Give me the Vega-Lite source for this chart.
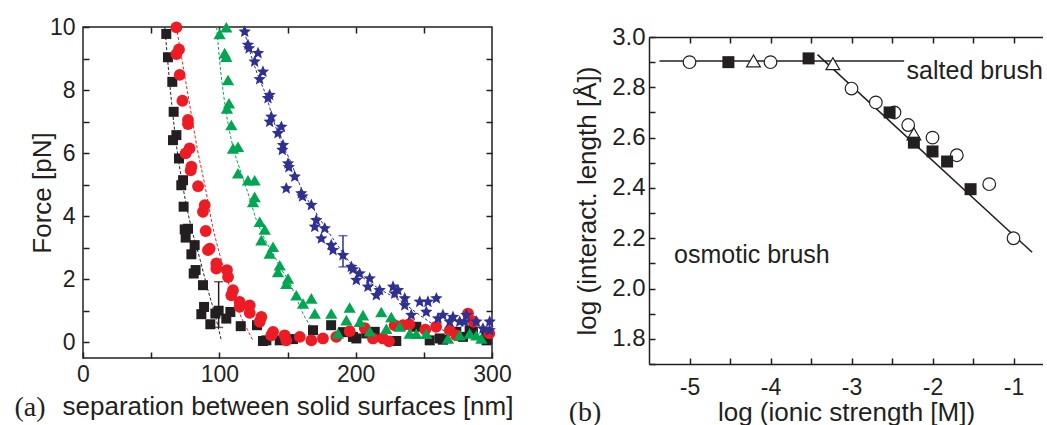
{
"$schema":"https://vega.github.io/schema/vega-lite/v6.json",
"background":"white",
"padding":{"left":13,"top":15,"right":0,"bottom":0},
"autosize":{"type":"pad"},
"columns":2,
"spacing":54,
"datasets":{
"aPts":[
{"s":"k","x":61.1,"y":9.78},{"s":"k","x":62.3,"y":9.04},{"s":"k","x":65.5,"y":8.26},{"s":"k","x":66.5,"y":7.31},{"s":"k","x":68.5,"y":6.57},{"s":"k","x":66.0,"y":6.41},{"s":"k","x":70.4,"y":5.83},{"s":"k","x":73.4,"y":5.14},{"s":"k","x":72.1,"y":4.98},{"s":"k","x":73.8,"y":4.30},{"s":"k","x":74.6,"y":3.58},{"s":"k","x":77.0,"y":3.6},{"s":"k","x":75.3,"y":3.32},{"s":"k","x":81.9,"y":3.08},{"s":"k","x":79.5,"y":2.79},{"s":"k","x":82.6,"y":2.29},{"s":"k","x":81.2,"y":2.18},{"s":"k","x":88.0,"y":1.81},{"s":"k","x":88.8,"y":1.12},{"s":"k","x":86.8,"y":0.89},{"s":"k","x":93.4,"y":0.57},{"s":"k","x":97.1,"y":0.91},{"s":"k","x":99.5,"y":1.0},{"s":"k","x":105.1,"y":0.75},{"s":"k","x":108.1,"y":0.96},{"s":"k","x":115.7,"y":0.51},{"s":"k","x":127.6,"y":0.54},{"s":"k","x":132.0,"y":0.04},{"s":"k","x":134.5,"y":0.06},{"s":"k","x":144.3,"y":0.06},{"s":"k","x":154.0,"y":0.10},{"s":"k","x":168.7,"y":0.38},{"s":"k","x":182.0,"y":0.54},{"s":"k","x":190.7,"y":0.32},{"s":"k","x":198.0,"y":0.17},{"s":"k","x":200.5,"y":0.12},{"s":"k","x":207.8,"y":0.28},{"s":"k","x":214.0,"y":0.33},{"s":"k","x":229.8,"y":0.04},{"s":"k","x":244.5,"y":0.49},{"s":"k","x":254.3,"y":0.06},{"s":"k","x":261.6,"y":0.12},{"s":"k","x":264.0,"y":0.08},{"s":"k","x":273.8,"y":0.33},{"s":"k","x":278.7,"y":0.17},{"s":"k","x":283.6,"y":0.38},{"s":"k","x":286.0,"y":0.33},{"s":"k","x":295.8,"y":0.22},{"s":"k","x":296.0,"y":0.06},
{"s":"r","x":68.5,"y":9.99},{"s":"r","x":70.4,"y":9.29},{"s":"r","x":68.5,"y":9.14},{"s":"r","x":70.9,"y":8.48},{"s":"r","x":72.9,"y":7.66},{"s":"r","x":77.0,"y":7.05},{"s":"r","x":77.0,"y":6.92},{"s":"r","x":78.2,"y":6.15},{"s":"r","x":75.3,"y":5.99},{"s":"r","x":79.5,"y":5.57},{"s":"r","x":79.0,"y":5.45},{"s":"r","x":84.4,"y":4.95},{"s":"r","x":89.3,"y":4.35},{"s":"r","x":88.0,"y":4.14},{"s":"r","x":90.0,"y":3.53},{"s":"r","x":92.9,"y":2.97},{"s":"r","x":91.7,"y":2.92},{"s":"r","x":97.8,"y":2.50},{"s":"r","x":97.8,"y":2.34},{"s":"r","x":105.6,"y":2.29},{"s":"r","x":106.4,"y":2.07},{"s":"r","x":110.0,"y":1.65},{"s":"r","x":108.8,"y":1.49},{"s":"r","x":114.9,"y":1.28},{"s":"r","x":114.9,"y":1.12},{"s":"r","x":122.3,"y":1.17},{"s":"r","x":122.3,"y":0.93},{"s":"r","x":130.8,"y":0.80},{"s":"r","x":129.6,"y":0.65},{"s":"r","x":139.4,"y":0.33},{"s":"r","x":138.1,"y":0.22},{"s":"r","x":147.9,"y":0.22},{"s":"r","x":149.1,"y":0.06},{"s":"r","x":159.0,"y":0.17},{"s":"r","x":167.5,"y":0.06},{"s":"r","x":176.0,"y":0.12},{"s":"r","x":185.8,"y":0.17},{"s":"r","x":195.6,"y":0.35},{"s":"r","x":206.6,"y":0.45},{"s":"r","x":212.7,"y":0.12},{"s":"r","x":220.0,"y":0.12},{"s":"r","x":224.5,"y":0.03},{"s":"r","x":228.6,"y":0.54},{"s":"r","x":234.7,"y":0.54},{"s":"r","x":239.3,"y":0.57},{"s":"r","x":251.0,"y":0.40},{"s":"r","x":259.0,"y":0.49},{"s":"r","x":269.0,"y":0.38},{"s":"r","x":273.8,"y":0.22},{"s":"r","x":282.4,"y":0.91},{"s":"r","x":286.5,"y":0.65},{"s":"r","x":298.0,"y":0.28},
{"s":"g","x":100.2,"y":9.78},{"s":"g","x":105.1,"y":9.99},{"s":"g","x":103.9,"y":9.17},{"s":"g","x":105.1,"y":9.06},{"s":"g","x":106.4,"y":8.32},{"s":"g","x":107.1,"y":7.58},{"s":"g","x":105.6,"y":7.42},{"s":"g","x":108.8,"y":6.89},{"s":"g","x":110.0,"y":6.15},{"s":"g","x":113.7,"y":6.20},{"s":"g","x":113.7,"y":5.36},{"s":"g","x":121.0,"y":5.14},{"s":"g","x":125.9,"y":5.14},{"s":"g","x":125.9,"y":4.61},{"s":"g","x":124.7,"y":4.45},{"s":"g","x":129.6,"y":3.82},{"s":"g","x":133.3,"y":3.58},{"s":"g","x":130.8,"y":3.24},{"s":"g","x":139.4,"y":3.03},{"s":"g","x":136.9,"y":2.82},{"s":"g","x":144.3,"y":2.44},{"s":"g","x":143.0,"y":2.23},{"s":"g","x":150.4,"y":2.02},{"s":"g","x":149.1,"y":1.86},{"s":"g","x":156.5,"y":1.49},{"s":"g","x":161.4,"y":1.23},{"s":"g","x":167.5,"y":1.39},{"s":"g","x":170.0,"y":0.91},{"s":"g","x":182.1,"y":0.91},{"s":"g","x":187.0,"y":0.28},{"s":"g","x":193.2,"y":0.70},{"s":"g","x":195.6,"y":1.1},{"s":"g","x":203.0,"y":0.65},{"s":"g","x":205.4,"y":0.86},{"s":"g","x":210.3,"y":0.35},{"s":"g","x":218.8,"y":0.96},{"s":"g","x":222.5,"y":0.43},{"s":"g","x":226.1,"y":0.80},{"s":"g","x":232.3,"y":0.50},{"s":"g","x":239.6,"y":0.28},{"s":"g","x":244.5,"y":0.27},{"s":"g","x":251.8,"y":0.27},{"s":"g","x":267.7,"y":0.12},{"s":"g","x":276.3,"y":0.22},{"s":"g","x":283.6,"y":0.28},{"s":"g","x":288.5,"y":0.22},{"s":"g","x":292.2,"y":0.12},
{"s":"b","x":118.6,"y":9.85},{"s":"b","x":121.0,"y":9.43},{"s":"b","x":121.8,"y":9.32},{"s":"b","x":128.4,"y":9.17},{"s":"b","x":125.9,"y":8.90},{"s":"b","x":132.0,"y":8.58},{"s":"b","x":129.6,"y":8.34},{"s":"b","x":136.9,"y":7.84},{"s":"b","x":135.7,"y":7.74},{"s":"b","x":138.1,"y":7.15},{"s":"b","x":136.9,"y":6.99},{"s":"b","x":145.5,"y":6.83},{"s":"b","x":143.0,"y":6.63},{"s":"b","x":146.7,"y":6.25},{"s":"b","x":146.2,"y":6.10},{"s":"b","x":150.4,"y":5.67},{"s":"b","x":151.0,"y":5.55},{"s":"b","x":155.3,"y":5.25},{"s":"b","x":149.1,"y":4.88},{"s":"b","x":160.1,"y":4.72},{"s":"b","x":161.0,"y":4.62},{"s":"b","x":167.5,"y":4.35},{"s":"b","x":171.1,"y":3.87},{"s":"b","x":170.0,"y":3.66},{"s":"b","x":177.3,"y":3.61},{"s":"b","x":174.8,"y":3.29},{"s":"b","x":182.1,"y":3.08},{"s":"b","x":183.4,"y":2.92},{"s":"b","x":190.7,"y":2.76},{"s":"b","x":196.8,"y":2.39},{"s":"b","x":198.0,"y":2.31},{"s":"b","x":200.5,"y":1.97},{"s":"b","x":202.9,"y":2.18},{"s":"b","x":210.3,"y":2.02},{"s":"b","x":209.0,"y":1.76},{"s":"b","x":217.6,"y":1.65},{"s":"b","x":215.2,"y":1.49},{"s":"b","x":227.4,"y":1.76},{"s":"b","x":231.0,"y":1.65},{"s":"b","x":228.6,"y":1.54},{"s":"b","x":236.0,"y":1.39},{"s":"b","x":236.0,"y":1.17},{"s":"b","x":240.8,"y":0.86},{"s":"b","x":247.0,"y":1.28},{"s":"b","x":251.8,"y":0.96},{"s":"b","x":253.0,"y":1.28},{"s":"b","x":259.2,"y":1.39},{"s":"b","x":260.4,"y":0.75},{"s":"b","x":264.0,"y":0.86},{"s":"b","x":271.4,"y":0.80},{"s":"b","x":269.0,"y":0.65},{"s":"b","x":276.3,"y":0.65},{"s":"b","x":281.2,"y":0.86},{"s":"b","x":280.0,"y":0.65},{"s":"b","x":288.5,"y":0.65},{"s":"b","x":293.4,"y":0.43},{"s":"b","x":298.3,"y":0.65},{"s":"b","x":298.3,"y":0.38}
],
"aLines":[
{"s":"k","x":60,"y":10},{"s":"k","x":65,"y":7.6},{"s":"k","x":69,"y":6.1},{"s":"k","x":73,"y":5.0},{"s":"k","x":78,"y":3.9},{"s":"k","x":86,"y":2.6},{"s":"k","x":92,"y":1.6},{"s":"k","x":97,"y":0.85},{"s":"k","x":101.5,"y":0.05},
{"s":"r","x":68.5,"y":10},{"s":"r","x":78,"y":7.6},{"s":"r","x":84,"y":6.1},{"s":"r","x":89.3,"y":5.0},{"s":"r","x":95,"y":3.7},{"s":"r","x":101.5,"y":2.6},{"s":"r","x":108,"y":1.7},{"s":"r","x":115,"y":0.9},{"s":"r","x":120,"y":0.45},{"s":"r","x":124.7,"y":0.05},
{"s":"g","x":98,"y":10},{"s":"g","x":101,"y":8.6},{"s":"g","x":105,"y":7.3},{"s":"g","x":110,"y":6.2},{"s":"g","x":115,"y":5.5},{"s":"g","x":122,"y":4.6},{"s":"g","x":127,"y":3.9},{"s":"g","x":133,"y":3.3},{"s":"g","x":139.5,"y":2.8},{"s":"g","x":145,"y":2.35},{"s":"g","x":151.5,"y":1.9},{"s":"g","x":156,"y":1.45},{"s":"g","x":161.5,"y":0.9},{"s":"g","x":167,"y":0.5},{"s":"g","x":174.5,"y":0.05},
{"s":"b","x":117.5,"y":10},{"s":"b","x":124,"y":9.0},{"s":"b","x":128,"y":8.5},{"s":"b","x":134.5,"y":7.8},{"s":"b","x":140,"y":7.0},{"s":"b","x":146,"y":6.3},{"s":"b","x":151.6,"y":5.8},{"s":"b","x":160,"y":4.9},{"s":"b","x":171,"y":4.1},{"s":"b","x":180,"y":3.5},{"s":"b","x":188,"y":3.0},{"s":"b","x":198,"y":2.4},{"s":"b","x":205,"y":2.07},{"s":"b","x":218,"y":1.68},{"s":"b","x":232,"y":1.33},{"s":"b","x":249,"y":0.8},{"s":"b","x":262,"y":0.43},{"s":"b","x":271,"y":0.25}
],
"aErr":[{"s":"k","x":99.5,"lo":0.47,"hi":1.92},{"s":"b","x":190.7,"lo":2.39,"hi":3.38}],
"aCaps":[{"s":"k","x":99.5,"y":0.47},{"s":"k","x":99.5,"y":1.92},{"s":"b","x":190.7,"y":2.39},{"s":"b","x":190.7,"y":3.38}],
"bPts":[
{"t":"c","x":-5.0,"y":2.90},{"t":"c","x":-4.0,"y":2.90},{"t":"c","x":-3.0,"y":2.795},{"t":"c","x":-2.7,"y":2.74},{"t":"c","x":-2.47,"y":2.70},{"t":"c","x":-2.3,"y":2.65},{"t":"c","x":-2.0,"y":2.60},{"t":"c","x":-1.7,"y":2.53},{"t":"c","x":-1.3,"y":2.415},{"t":"c","x":-1.0,"y":2.20},
{"t":"t","x":-4.21,"y":2.905},{"t":"t","x":-3.23,"y":2.894},{"t":"t","x":-2.23,"y":2.615},
{"t":"s","x":-4.52,"y":2.90},{"t":"s","x":-3.53,"y":2.915},{"t":"s","x":-2.53,"y":2.70},{"t":"s","x":-2.23,"y":2.58},{"t":"s","x":-2.0,"y":2.545},{"t":"s","x":-1.82,"y":2.505},{"t":"s","x":-1.53,"y":2.395}
],
"bLines":[{"id":"h","x":-5.37,"y":2.905},{"id":"h","x":-2.35,"y":2.905},{"id":"d","x":-3.42,"y":2.93},{"id":"d","x":-0.77,"y":2.144}],
"bText":[{"label":"salted brush","x":-2.32,"y":2.833},{"label":"osmotic brush","x":-5.19,"y":2.10}]
},
"concat":[
{
"width":409,"height":331,
"view":{"stroke":"#231f20","strokeWidth":1.5},
"title":{"text":"(a)","orient":"bottom","anchor":"start","font":"Liberation Serif","fontSize":28,"fontWeight":"normal","color":"#231f20","dx":-15,"dy":-25,"offset":0},
"layer":[
{"data":{"name":"aLines"},"mark":{"type":"line","strokeDash":[3,2],"strokeWidth":1,"interpolate":"monotone"},
"encoding":{"x":{"field":"x","type":"quantitative","scale":{"domain":[0,300],"nice":false,"zero":false},"axis":null},
"y":{"field":"y","type":"quantitative","scale":{"domain":[-0.5,10],"nice":false,"zero":false},"axis":null},
"color":{"field":"s","type":"nominal","scale":{"domain":["k","r","g","b"],"range":["#231f20","#ed1c24","#00a651","#2e3192"]},"legend":null},
"detail":{"field":"s","type":"nominal"}}},
{"data":{"name":"aPts"},"transform":[{"filter":"datum.s === 'k'"}],"mark":{"type":"point","shape":"square","filled":true,"opacity":1,"size":100,"color":"#231f20","strokeWidth":0},
"encoding":{"x":{"field":"x","type":"quantitative","scale":{"domain":[0,300],"nice":false,"zero":false},
"axis":{"orient":"bottom","values":[0,50,100,150,200,250,300],"labelExpr":"datum.value % 100 === 0 ? datum.label : ''","tickSize":-6,"labelPadding":11,"labelFontSize":23,"title":"separation between solid surfaces [nm]","titleFontSize":26,"titlePadding":7,"domain":false}},
"y":{"field":"y","type":"quantitative","scale":{"domain":[-0.5,10],"nice":false,"zero":false},
"axis":{"orient":"left","values":[0,1,2,3,4,5,6,7,8,9,10],"labelExpr":"datum.value % 2 === 0 ? datum.label : ''","tickSize":-6,"labelPadding":14,"labelFontSize":23,"title":"Force [pN]","titleFontSize":26,"titlePadding":-6,"domain":false}}}},
{"data":{"name":"aPts"},"transform":[{"filter":"datum.s === 'r'"}],"mark":{"type":"point","shape":"circle","filled":true,"opacity":1,"size":140,"color":"#ed1c24","strokeWidth":0},
"encoding":{"x":{"field":"x","type":"quantitative","scale":{"domain":[0,300],"nice":false,"zero":false},"axis":null},"y":{"field":"y","type":"quantitative","scale":{"domain":[-0.5,10],"nice":false,"zero":false},"axis":null}}},
{"data":{"name":"aPts"},"transform":[{"filter":"datum.s === 'g'"}],"mark":{"type":"point","shape":"triangle-up","filled":true,"opacity":1,"size":150,"color":"#00a651","strokeWidth":0},
"encoding":{"x":{"field":"x","type":"quantitative","scale":{"domain":[0,300],"nice":false,"zero":false},"axis":null},"y":{"field":"y","type":"quantitative","scale":{"domain":[-0.5,10],"nice":false,"zero":false},"axis":null}}},
{"data":{"name":"aPts"},"transform":[{"filter":"datum.s === 'b'"}],"mark":{"type":"point","shape":"M0,-1L0.2645,-0.364L0.951,-0.309L0.428,0.139L0.588,0.809L0,0.45L-0.588,0.809L-0.428,0.139L-0.951,-0.309L-0.2645,-0.364Z","filled":true,"opacity":1,"size":170,"color":"#2e3192","strokeWidth":0},
"encoding":{"x":{"field":"x","type":"quantitative","scale":{"domain":[0,300],"nice":false,"zero":false},"axis":null},"y":{"field":"y","type":"quantitative","scale":{"domain":[-0.5,10],"nice":false,"zero":false},"axis":null}}},
{"data":{"name":"aErr"},"mark":{"type":"rule","strokeWidth":1.5},
"encoding":{"x":{"field":"x","type":"quantitative","scale":{"domain":[0,300],"nice":false,"zero":false},
"axis":{"orient":"top","values":[50,100,150,200,250],"labels":false,"tickSize":-6,"domain":false,"title":null}},
"y":{"field":"lo","type":"quantitative","scale":{"domain":[-0.5,10],"nice":false,"zero":false},
"axis":{"orient":"right","values":[0,1,2,3,4,5,6,7,8,9],"labels":false,"tickSize":-6,"domain":false,"title":null}},
"y2":{"field":"hi"},
"color":{"field":"s","type":"nominal","scale":{"domain":["k","r","g","b"],"range":["#231f20","#ed1c24","#00a651","#2e3192"]},"legend":null}}},
{"data":{"name":"aCaps"},"mark":{"type":"tick","orient":"horizontal","size":9,"thickness":1.5},
"encoding":{"x":{"field":"x","type":"quantitative","scale":{"domain":[0,300],"nice":false,"zero":false},"axis":null},
"y":{"field":"y","type":"quantitative","scale":{"domain":[-0.5,10],"nice":false,"zero":false},"axis":null},
"color":{"field":"s","type":"nominal","scale":{"domain":["k","r","g","b"],"range":["#231f20","#ed1c24","#00a651","#2e3192"]},"legend":null}}}
],
"resolve":{"axis":{"x":"independent","y":"independent"}}
},
{
"spacing":-6,
"vconcat":[
{"width":394,"height":1,"data":{"values":[{"z":0}]},"mark":{"type":"point","opacity":0},"encoding":{}},
{
"width":394,"height":327,
"view":{"stroke":null},
"title":{"text":"(b)","orient":"bottom","anchor":"start","font":"Liberation Serif","fontSize":28,"fontWeight":"normal","color":"#231f20","dx":-6,"dy":-26,"offset":0},
"layer":[
{"data":{"name":"bLines"},"mark":{"type":"line","strokeWidth":1.5,"color":"#231f20"},
"encoding":{"x":{"field":"x","type":"quantitative","scale":{"domain":[-5.5,-0.636],"nice":false,"zero":false},"axis":null},
"y":{"field":"y","type":"quantitative","scale":{"domain":[1.7,3.0],"nice":false,"zero":false},"axis":null},
"detail":{"field":"id","type":"nominal"}}},
{"data":{"name":"bPts"},"transform":[{"filter":"datum.t === 'c'"}],"mark":{"type":"point","shape":"circle","filled":true,"fill":"white","stroke":"#231f20","strokeWidth":1.2,"opacity":1,"size":160},
"encoding":{"x":{"field":"x","type":"quantitative","scale":{"domain":[-5.5,-0.636],"nice":false,"zero":false},
"axis":{"orient":"bottom","values":[-5,-4.5,-4,-3.5,-3,-2.5,-2,-1.5,-1],"labelExpr":"datum.value % 1 === 0 ? '' + datum.value : ''","tickSize":-6,"labelPadding":18,"labelFontSize":23,"title":"log (ionic strength [M])","titleFontSize":26,"titlePadding":0,"domain":true,"domainWidth":1.5}},
"y":{"field":"y","type":"quantitative","scale":{"domain":[1.7,3.0],"nice":false,"zero":false},
"axis":{"orient":"left","values":[1.7,1.8,1.9,2.0,2.1,2.2,2.3,2.4,2.5,2.6,2.7,2.8,2.9,3.0],"labelExpr":"round(datum.value*10) % 2 === 0 ? format(datum.value, '.1f') : ''","tickSize":-6,"labelPadding":10,"labelFontSize":24,"title":"log (interact. length [Å])","titleFontSize":26,"titlePadding":11,"domain":true,"domainWidth":1.5}}}},
{"data":{"name":"bPts"},"transform":[{"filter":"datum.t === 't'"}],"mark":{"type":"point","shape":"triangle-up","filled":true,"fill":"white","stroke":"#231f20","strokeWidth":1.2,"opacity":1,"size":190},
"encoding":{"x":{"field":"x","type":"quantitative","scale":{"domain":[-5.5,-0.636],"nice":false,"zero":false},"axis":null},"y":{"field":"y","type":"quantitative","scale":{"domain":[1.7,3.0],"nice":false,"zero":false},"axis":null}}},
{"data":{"name":"bPts"},"transform":[{"filter":"datum.t === 's'"}],"mark":{"type":"point","shape":"square","filled":true,"color":"#231f20","strokeWidth":0,"opacity":1,"size":144},
"encoding":{"x":{"field":"x","type":"quantitative","scale":{"domain":[-5.5,-0.636],"nice":false,"zero":false},"axis":null},"y":{"field":"y","type":"quantitative","scale":{"domain":[1.7,3.0],"nice":false,"zero":false},"axis":null}}},
{"data":{"name":"bText"},"mark":{"type":"text","align":"left","baseline":"alphabetic","fontSize":25,"font":"Liberation Sans","color":"#231f20"},
"encoding":{"x":{"field":"x","type":"quantitative","scale":{"domain":[-5.5,-0.636],"nice":false,"zero":false},
"axis":{"orient":"top","values":[-5,-4.5,-4,-3.5,-3,-2.5,-2,-1.5,-1],"labels":false,"tickSize":-6,"domain":true,"domainWidth":1.5,"title":null}},
"y":{"field":"y","type":"quantitative","scale":{"domain":[1.7,3.0],"nice":false,"zero":false},"axis":null},
"text":{"field":"label","type":"nominal"}}}
],
"resolve":{"axis":{"x":"independent","y":"independent"}}
}
]
}
],
"config":{
"font":"Liberation Sans",
"view":{"stroke":null},
"axis":{"labelFont":"Liberation Sans","titleFont":"Liberation Sans","titleFontWeight":"normal","labelColor":"#231f20","titleColor":"#231f20","tickColor":"#231f20","domainColor":"#231f20","tickWidth":1.5,"grid":false,"labelFlush":false,"labelOverlap":false,"labelBound":false}
}
}
